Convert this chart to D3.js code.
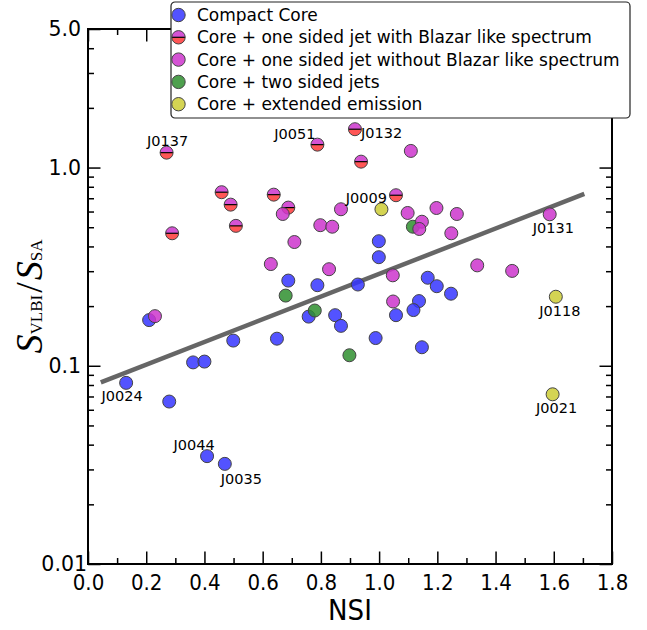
<!DOCTYPE html>
<html>
<head>
<meta charset="utf-8">
<script src="https://cdn.jsdelivr.net/npm/d3@7"></script>
<style>
  body { margin: 0; background: #fff; }
  svg { display: block; }
</style>
</head>
<body>
<div id="app"></div>
<script>
// [NSI, S_VLBI/S_SA, name]
const compactCore = [
  [0.131, 0.082, "J0024"], [0.279, 0.066], [0.409, 0.035, "J0044"], [0.470, 0.032, "J0035"],
  [0.361, 0.104], [0.400, 0.105], [0.499, 0.134], [0.649, 0.137], [0.210, 0.170],
  [0.688, 0.269], [0.788, 0.255], [0.758, 0.177], [0.849, 0.180], [0.869, 0.159],
  [0.927, 0.257], [0.999, 0.425], [0.999, 0.353], [1.167, 0.278], [1.198, 0.252],
  [1.247, 0.231], [1.137, 0.212], [1.118, 0.191], [1.058, 0.180], [0.988, 0.138],
  [1.147, 0.124]
];
const jetBlazar = [
  [0.270, 1.189, "J0137"], [0.459, 0.751], [0.490, 0.650], [0.508, 0.508], [0.289, 0.466],
  [0.638, 0.730], [0.688, 0.628], [0.788, 1.305, "J0051"], [0.917, 1.561, "J0132"],
  [0.938, 1.071], [1.058, 0.725]
];
const jetNoBlazar = [
  [0.669, 0.583], [0.869, 0.616], [0.798, 0.512], [0.839, 0.503], [0.709, 0.421],
  [0.628, 0.326], [0.828, 0.307], [0.230, 0.178], [1.109, 1.213], [1.098, 0.590],
  [1.197, 0.625], [1.267, 0.583], [1.147, 0.533], [1.138, 0.490], [1.248, 0.466],
  [1.586, 0.581, "J0131"], [1.337, 0.321], [1.457, 0.301], [1.047, 0.286], [1.048, 0.211]
];
const twoSidedJets = [[0.679, 0.226], [0.779, 0.190], [0.898, 0.113], [1.116, 0.503]];
const extendedEmission = [[1.008, 0.616, "J0009"], [1.607, 0.223, "J0118"], [1.596, 0.0718, "J0021"]];

const fitNSI = [0.044, 1.705];
const fitRatio = [0.0825, 0.736];

const categories = [
  "Compact Core",
  "Core + one sided jet with Blazar like spectrum",
  "Core + one sided jet without Blazar like spectrum",
  "Core + two sided jets",
  "Core + extended emission"
];

const xTicks = [0, 0.2, 0.4, 0.6, 0.8, 1.0, 1.2, 1.4, 1.6, 1.8];
const xMinorTicks = [0.1, 0.3, 0.5, 0.7, 0.9, 1.1, 1.3, 1.5, 1.7];
const yTicks = [0.01, 0.1, 1, 5];
const yTickLabels = ["0.01", "0.1", "1.0", "5.0"];

const w = 647, h = 630;
const margin = {left: 88, right: 35, top: 29, bottom: 66};

const blue = "#3535ff", magenta = "#cc35cc", red = "#ff3838",
      green = "#2f8f2f", yellow = "#cccc35";
const edge = "#444", alpha = 0.85, r = 6.5;

const svg = d3.select("#app").append("svg")
  .attr("width", w).attr("height", h);

const x = d3.scaleLinear().domain([0, 1.8]).range([margin.left, w - margin.right]);
const y = d3.scaleLog().domain([0.01, 5]).range([h - margin.bottom, margin.top]);

const yMinor = [];
[0.01, 0.1, 1].forEach(dec => {
  for (let k = 2; k <= 9; k++) if (dec * k < 5) yMinor.push(dec * k);
});

const x0 = margin.left, x1 = w - margin.right, y0 = h - margin.bottom, y1 = margin.top;

function styleAxis(g) {
  g.select(".domain").remove();
  g.selectAll(".tick line").attr("stroke", "#000").attr("stroke-width", 1.5);
}

// bottom
svg.append("g").attr("transform", `translate(0,${y0})`)
  .call(d3.axisBottom(x).tickValues(xTicks).tickSize(-12.5).tickPadding(10).tickFormat(d3.format(".1f")))
  .call(styleAxis)
  .call(g => g.selectAll("text")
    .attr("font-family", "'DejaVu Sans Condensed', 'DejaVu Sans', sans-serif")
    .attr("font-stretch", "condensed")
    .attr("font-size", 22).attr("fill", "#000"));
svg.append("g").attr("transform", `translate(0,${y0})`)
  .call(d3.axisBottom(x).tickValues(xMinorTicks).tickSize(-6).tickFormat(""))
  .call(styleAxis);
// top
svg.append("g").attr("transform", `translate(0,${y1})`)
  .call(d3.axisTop(x).tickValues(xTicks).tickSize(-12.5).tickFormat(""))
  .call(styleAxis);
svg.append("g").attr("transform", `translate(0,${y1})`)
  .call(d3.axisTop(x).tickValues(xMinorTicks).tickSize(-6).tickFormat(""))
  .call(styleAxis);
// left
svg.append("g").attr("transform", `translate(${x0},0)`)
  .call(d3.axisLeft(y).tickValues(yTicks).tickSize(-12.5).tickPadding(7)
    .tickFormat((d, i) => yTickLabels[i]))
  .call(styleAxis)
  .call(g => g.selectAll("text")
    .attr("font-family", "'DejaVu Sans', sans-serif")
    .attr("font-size", 20.5).attr("fill", "#000")
    .attr("dx", d => d === 0.01 ? 6 : 0));
svg.append("g").attr("transform", `translate(${x0},0)`)
  .call(d3.axisLeft(y).tickValues(yMinor).tickSize(-6).tickFormat(""))
  .call(styleAxis);
// right
svg.append("g").attr("transform", `translate(${x1},0)`)
  .call(d3.axisRight(y).tickValues(yTicks).tickSize(-12.5).tickFormat(""))
  .call(styleAxis);
svg.append("g").attr("transform", `translate(${x1},0)`)
  .call(d3.axisRight(y).tickValues(yMinor).tickSize(-6).tickFormat(""))
  .call(styleAxis);

svg.append("rect")
  .attr("x", x0).attr("y", y1).attr("width", x1 - x0).attr("height", y0 - y1)
  .attr("fill", "none").attr("stroke", "#000").attr("stroke-width", 2);

// axis titles
svg.append("text")
  .attr("x", (x0 + x1) / 2).attr("y", 620)
  .attr("text-anchor", "middle")
  .attr("font-family", "'DejaVu Sans Condensed', 'DejaVu Sans', sans-serif")
  .attr("font-stretch", "condensed")
  .attr("font-size", 29)
  .text("NSI");

const yl = svg.append("text")
  .attr("transform", `translate(42,${(y0 + y1) / 2}) rotate(-90)`)
  .attr("text-anchor", "middle")
  .attr("font-family", "'Liberation Serif', serif");
yl.append("tspan").attr("font-style", "italic").attr("font-size", 38).text("S");
yl.append("tspan").attr("font-size", 17).text("VLBI");
yl.append("tspan").attr("font-size", 38).attr("dx", 2).text("/");
yl.append("tspan").attr("font-style", "italic").attr("font-size", 38).attr("dx", 2).text("S");
yl.append("tspan").attr("font-size", 17).text("SA");

// fit line
svg.append("line")
  .attr("x1", x(fitNSI[0])).attr("y1", y(fitRatio[0]))
  .attr("x2", x(fitNSI[1])).attr("y2", y(fitRatio[1]))
  .attr("stroke", "#666").attr("stroke-width", 4.5);

function plain(data, color) {
  svg.append("g").selectAll("circle")
    .data(data).enter().append("circle")
    .attr("cx", d => x(d[0])).attr("cy", d => y(d[1])).attr("r", r)
    .attr("fill", color).attr("fill-opacity", alpha)
    .attr("stroke", edge).attr("stroke-width", 1);
}

function halfMarker(g, rad) {
  g.append("path").attr("d", `M${-rad},0A${rad},${rad} 0 0 1 ${rad},0Z`)
    .attr("fill", magenta).attr("fill-opacity", alpha);
  g.append("path").attr("d", `M${-rad},0A${rad},${rad} 0 0 0 ${rad},0Z`)
    .attr("fill", red).attr("fill-opacity", alpha);
  g.append("line").attr("x1", -rad).attr("x2", rad).attr("stroke", "#000").attr("stroke-width", 1.2);
  g.append("circle").attr("r", rad).attr("fill", "none").attr("stroke", edge).attr("stroke-width", 1);
}

plain(compactCore, blue);
plain(twoSidedJets, green);
plain(extendedEmission, yellow);
svg.append("g").selectAll("g")
  .data(jetBlazar).enter().append("g")
  .attr("transform", d => `translate(${x(d[0])},${y(d[1])})`)
  .each(function() { halfMarker(d3.select(this), r); });
plain(jetNoBlazar, magenta);

// source labels
const labelPos = {
  J0024: [-4, 18, "middle"], J0044: [-13, -5.7, "middle"], J0035: [16.5, 20, "middle"],
  J0137: [1, -6.5, "middle"], J0051: [-2, -5.7, "end"], J0132: [6, 9, "start"],
  J0009: [-15, -6.6, "middle"], J0131: [3.6, 18.4, "middle"], J0118: [4, 19.3, "middle"],
  J0021: [4, 19, "middle"]
};
const labelled = [].concat(compactCore, jetBlazar, jetNoBlazar, twoSidedJets, extendedEmission)
  .filter(d => d[2]);
svg.append("g").selectAll("text")
  .data(labelled).enter().append("text")
  .attr("x", d => x(d[0]) + labelPos[d[2]][0])
  .attr("y", d => y(d[1]) + labelPos[d[2]][1])
  .attr("text-anchor", d => labelPos[d[2]][2])
  .attr("font-family", "'DejaVu Sans', sans-serif")
  .attr("font-size", 14.5)
  .text(d => d[2]);

// legend
const legend = svg.append("g").attr("transform", "translate(171,2)");
legend.append("rect")
  .attr("width", 459).attr("height", 116).attr("rx", 4)
  .attr("fill", "#fff").attr("stroke", "#222").attr("stroke-width", 1.2);
const legendColors = [blue, null, magenta, green, yellow];
categories.forEach((c, i) => {
  const row = legend.append("g").attr("transform", `translate(7.5,${13 + i * 22.3})`);
  if (legendColors[i]) {
    row.append("circle").attr("r", 6.7)
      .attr("fill", legendColors[i]).attr("fill-opacity", alpha)
      .attr("stroke", edge).attr("stroke-width", 1);
  } else {
    halfMarker(row, 6.7);
  }
  row.append("text")
    .attr("x", 18.5).attr("y", 0).attr("dy", "0.36em")
    .attr("font-family", "'DejaVu Sans', sans-serif")
    .attr("font-size", 17)
    .text(c);
});
</script>
</body>
</html>
